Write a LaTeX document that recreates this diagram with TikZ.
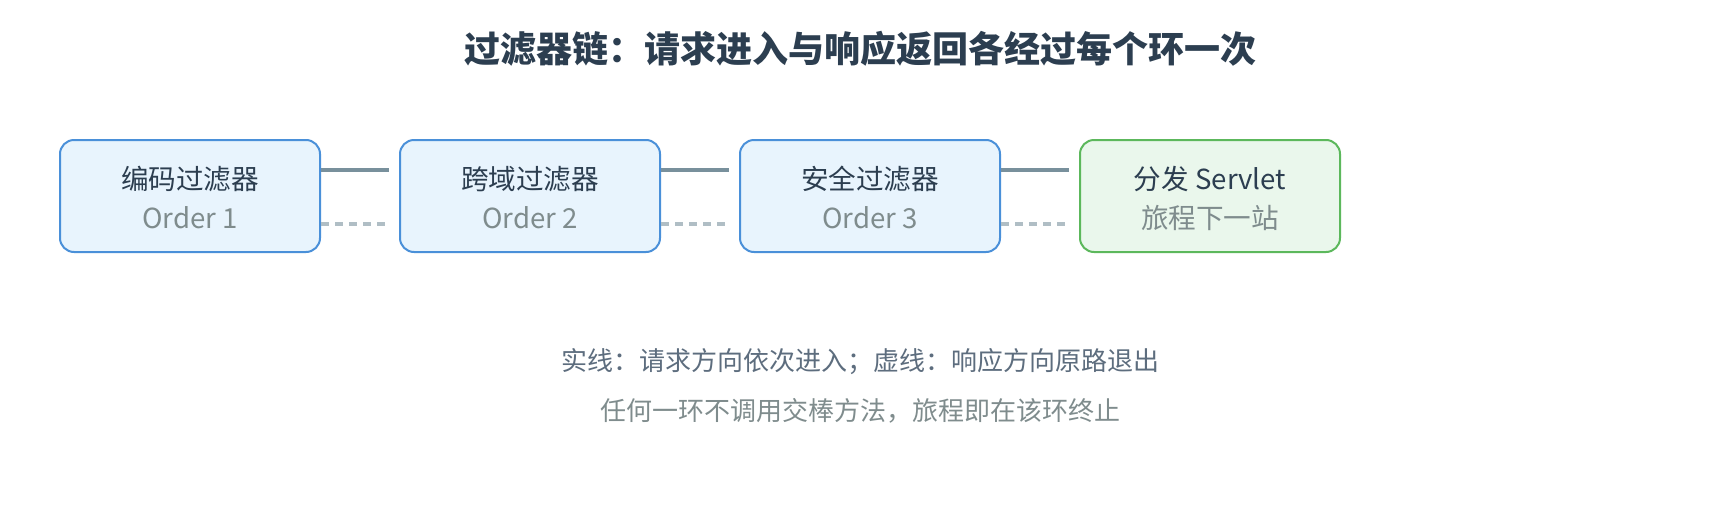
\documentclass[tikz,border=0pt]{standalone}
\usepackage{fontspec}
\setmainfont{Noto Sans CJK SC}
\usepackage{xcolor}
\usetikzlibrary{positioning}
\definecolor{boxfill}{HTML}{E8F4FD}
\definecolor{boxline}{HTML}{4A90D9}
\definecolor{endfill}{HTML}{EAF7EC}
\definecolor{endline}{HTML}{5CB85C}
\definecolor{ink}{HTML}{2C3E50}
\definecolor{muted}{HTML}{7F8C8D}
\definecolor{notedark}{HTML}{5D6D7E}
\definecolor{reqline}{HTML}{78909C}
\definecolor{resline}{HTML}{B0BEC5}
\begin{document}
\begin{tikzpicture}[x=0.5pt,y=-0.5pt,
    stage/.style={rectangle, rounded corners=7pt, draw=boxline, fill=boxfill, line width=1pt, minimum width=130pt, minimum height=56pt, inner sep=0pt},
    last/.style={stage, draw=endline, fill=endfill},
    stagename/.style={font=\fontsize{13.8}{15}\selectfont, text=ink},
    order/.style={font=\fontsize{13.8}{15}\selectfont, text=muted},
    req/.style={reqline, line width=2pt},
    res/.style={resline, line width=2pt, dash pattern=on 4pt off 3pt},
    note/.style={font=\fontsize{13}{15}\selectfont, text=muted}
]
    \useasboundingbox[fill=white] (0,0) rectangle (1720,520);
    % Title
    \node[font=\fontsize{18}{20}\bfseries\selectfont, text=ink] (title) at (860,49) {过滤器链：请求进入与响应返回各经过每个环一次};

    % Stages
    \node[stage] (f1) at (190,196) {};
    \node[stage] (f2) at (530,196) {};
    \node[stage] (f3) at (870,196) {};
    \node[last] (disp) at (1210,196) {};

    \node[stagename] (t1) at (190,179) {编码过滤器};
    \node[order] (o1) at (190,218) {Order 1};
    \node[stagename] (t2) at (530,179) {跨域过滤器};
    \node[order] (o2) at (530,218) {Order 2};
    \node[stagename] (t3) at (870,179) {安全过滤器};
    \node[order] (o3) at (870,218) {Order 3};
    \node[stagename] (t4) at (1210,179) {分发 Servlet};
    \node[order] (o4) at (1210,218) {旅程下一站};

    % Request and response paths
    \coordinate (r1) at (389,170);
    \coordinate (r2) at (729,170);
    \coordinate (r3) at (1069,170);
    \coordinate (b1) at (385,224);
    \coordinate (b2) at (725,224);
    \coordinate (b3) at (1065,224);
    \draw[req] (f1.east |- r1) -- (r1);
    \draw[req] (f2.east |- r2) -- (r2);
    \draw[req] (f3.east |- r3) -- (r3);
    \draw[res] (f1.east |- b1) -- (b1);
    \draw[res] (f2.east |- b2) -- (b2);
    \draw[res] (f3.east |- b3) -- (b3);

    % Notes
    \node[note, text=notedark] (n1) at (860,362) {实线：请求方向依次进入；虚线：响应方向原路退出};
    \node[note] (n2) at (860,411) {任何一环不调用交棒方法，旅程即在该环终止};
\end{tikzpicture}
\end{document}
